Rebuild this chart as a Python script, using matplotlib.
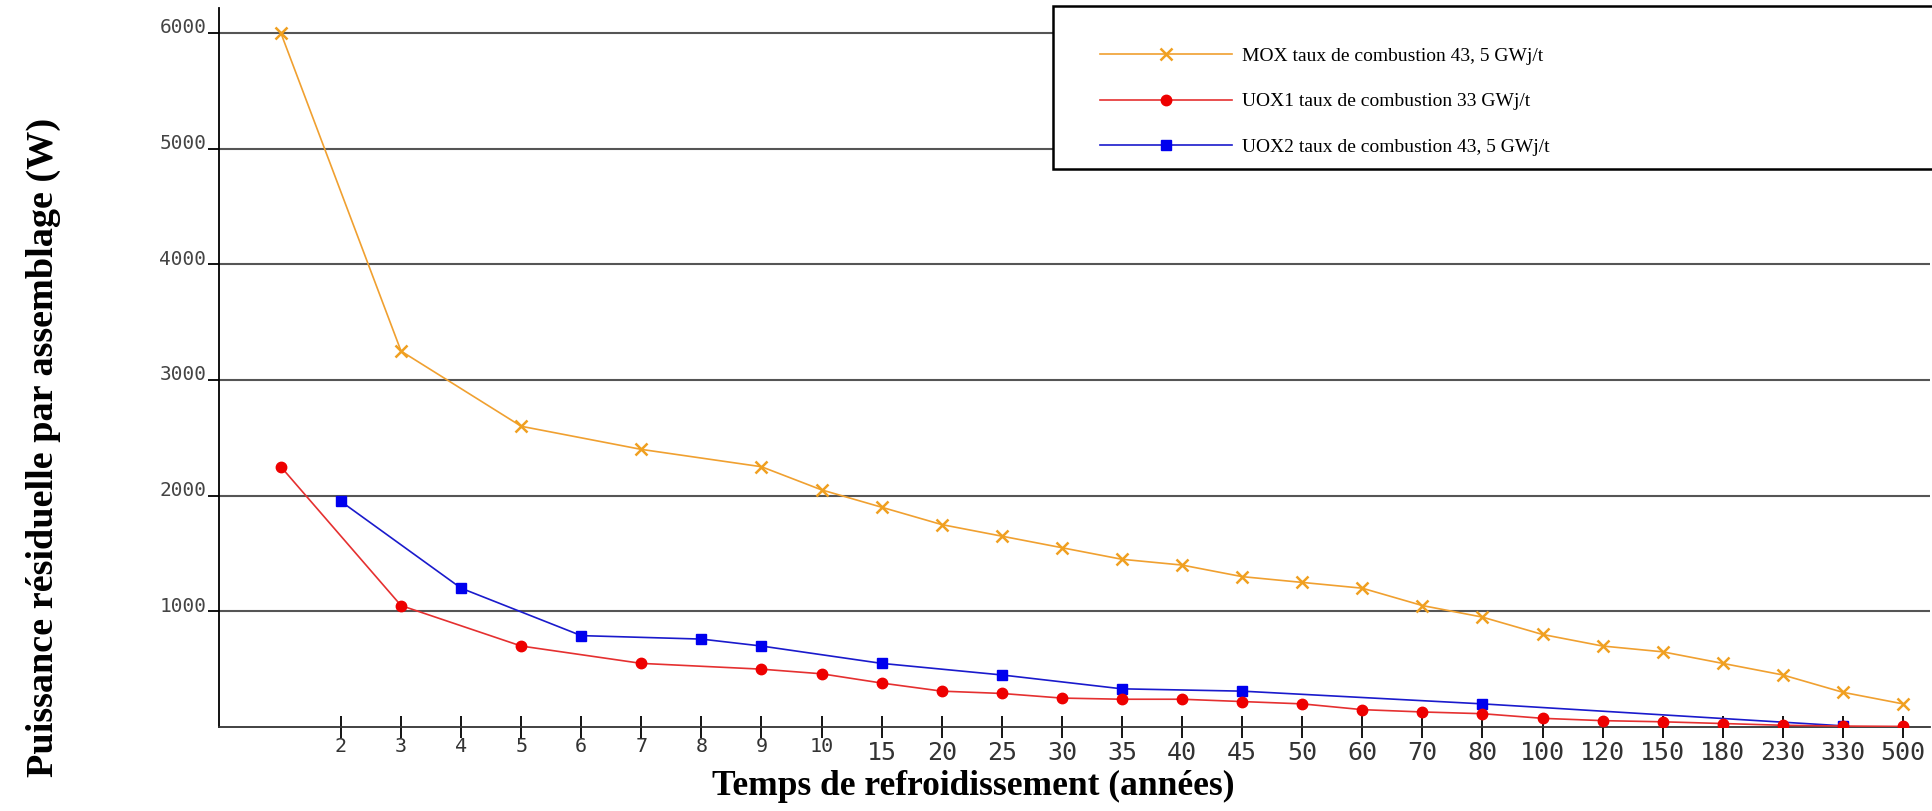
import numpy as np
import matplotlib
matplotlib.use("Agg")
import matplotlib.pyplot as plt
import matplotlib.transforms as mtransforms
from matplotlib.patches import Rectangle

# ---------------------------------------------------------------- #
# cooling time categories (years), first one has no label
years = [1, 2, 3, 4, 5, 6, 7, 8, 9, 10, 15, 20, 25, 30, 35, 40, 45, 50,
         60, 70, 80, 100, 120, 150, 180, 230, 330, 500]
tick_labels = [str(y) for y in years[1:]]

mox_years = [1, 3, 5, 7, 9, 10, 15, 20, 25, 30, 35, 40, 45, 50, 60, 70, 80,
             100, 120, 150, 180, 230, 330, 500]
mox_vals = [6000, 3250, 2600, 2400, 2250, 2050, 1900, 1750, 1650, 1550, 1450,
            1400, 1300, 1250, 1200, 1050, 950, 800, 700, 650, 550, 450, 300, 200]

uox1_years = mox_years
uox1_vals = [2250, 1050, 700, 550, 500, 460, 380, 310, 290, 250, 240, 240, 220,
             200, 150, 130, 115, 75, 55, 45, 30, 15, 8, 5]

uox2_years = [2, 4, 6, 8, 9, 15, 25, 35, 45, 80, 330]
uox2_vals = [1950, 1200, 790, 760, 700, 550, 450, 330, 310, 200, 10]

y_ticks = [1000, 2000, 3000, 4000, 5000, 6000]

labels = ["MOX taux de combustion 43, 5 GWj/t",
          "UOX1 taux de combustion 33 GWj/t",
          "UOX2 taux de combustion 43, 5 GWj/t"]

# ---------------------------------------------------------------- #
W, H = 1932, 811
fig = plt.figure(figsize=(W / 100, H / 100), dpi=100)
ax = fig.add_axes([219 / W, 1 - 727 / H, (1930 - 219) / W, (727 - 8) / H])

def idx(ys):
    return [years.index(y) for y in ys]

l1, = ax.plot(idx(mox_years), mox_vals, color='#f0a030', lw=1.2, marker='x',
              markersize=8, mew=1.8, mec='#f0a020', zorder=3)
l2, = ax.plot(idx(uox1_years), uox1_vals, color='#e53030', lw=1.2, marker='o',
              markersize=7.5, mfc='#ee0000', mec='#ee0000', zorder=4)
l3, = ax.plot(idx(uox2_years), uox2_vals, color='#1a1acc', lw=1.2, marker='s',
              markersize=7.5, mfc='#0000ee', mec='#0000ee', zorder=3)

ax.set_xlim(-1.03, 27.45)
ax.set_ylim(0, 6216)

# grid
for y in y_ticks:
    ax.axhline(y, color='#555555', lw=1.5, zorder=1)

for s in ['top', 'right']:
    ax.spines[s].set_visible(False)
ax.spines['left'].set_linewidth(1.3)
ax.spines['bottom'].set_linewidth(1.3)
ax.spines['bottom'].set_color('#333333')

# x ticks: small labels up to 10, larger after
ax.set_xticks(range(1, len(years)))
ax.set_xticklabels(tick_labels, family='DejaVu Sans Mono', color='#333333')
ax.tick_params(axis='x', direction='inout', length=16, width=1.3, pad=2)
up = mtransforms.ScaledTranslation(0, 4 / 100, fig.dpi_scale_trans)
for lab, y in zip(ax.get_xticklabels(), years[1:]):
    if y <= 10:
        lab.set_fontsize(14.5)
        lab.set_transform(lab.get_transform() + up)
    else:
        lab.set_fontsize(18)

ax.set_yticks(y_ticks)
ax.set_yticklabels([str(v) for v in y_ticks], family='DejaVu Sans Mono',
                   fontsize=14, color='#444444')
ax.tick_params(axis='y', direction='out', length=8, width=1.3, pad=1)
# labels sit a bit above their gridline
offset = mtransforms.ScaledTranslation(0, 7 / 100, fig.dpi_scale_trans)
for lab in ax.get_yticklabels():
    lab.set_transform(lab.get_transform() + offset)

# axis titles
fig.text(43 / W, 1 - 447 / H, "Puissance résiduelle par assemblage (W)",
         rotation=90, ha='center', va='center', family='Liberation Serif',
         fontweight='bold', fontsize=27.5)
fig.text(973 / W, 1 - 786 / H, "Temps de refroidissement (années)",
         ha='center', va='center', family='Liberation Serif',
         fontweight='bold', fontsize=25.5)

# legend with its own wide frame
fig.patches.append(Rectangle((1053 / W, 1 - 169 / H), (1935 - 1053) / W, 163 / H,
                             transform=fig.transFigure, fill=True, fc='white',
                             ec='black', lw=1.8, zorder=5))
leg = fig.legend([l1, l2, l3], labels, loc='upper left',
                 bbox_to_anchor=(1100 / W, 1 - 47 / H), frameon=False,
                 prop={'family': 'Liberation Serif', 'size': 14},
                 handlelength=6.8, handletextpad=0.5, labelspacing=1.45,
                 borderpad=0, borderaxespad=0)
leg.set_zorder(6)

fig.savefig("out.png", dpi=100, facecolor='white')
